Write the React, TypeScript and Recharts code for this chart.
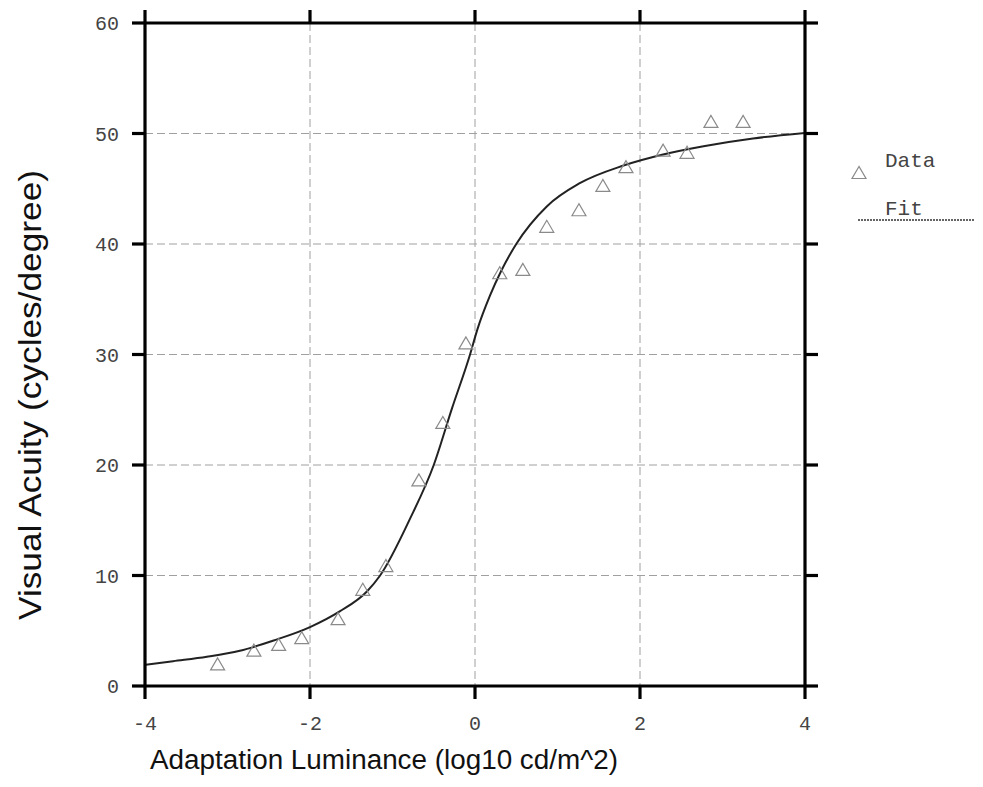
import React from 'react';
import { ComposedChart, Line, Scatter, XAxis, YAxis, CartesianGrid } from 'recharts';

const dataLuminance = [-3.12, -2.68, -2.38, -2.1, -1.66, -1.36, -1.08, -0.68, -0.39, -0.11, 0.3, 0.58, 0.87, 1.26, 1.55, 1.83, 2.28, 2.57, 2.86, 3.25];
const dataAcuity = [2.0, 3.25, 3.76, 4.37, 6.1, 8.75, 10.9, 18.65, 23.85, 31.05, 37.4, 37.7, 41.6, 43.1, 45.3, 47.0, 48.5, 48.3, 51.1, 51.1];

const fitLuminance = [-4, -3.66, -3.25, -2.85, -2.44, -2.0, -1.64, -1.31, -1.15, -0.79, -0.5, -0.28, -0.06, 0.03, 0.18, 0.32, 0.5, 0.87, 1.27, 1.8, 2.28, 2.77, 3.37, 4.0];
const fitAcuity = [1.92, 2.25, 2.65, 3.19, 4.12, 5.33, 6.75, 8.55, 10.0, 15.1, 20.0, 25.1, 30.0, 32.3, 35.3, 37.6, 40.0, 43.4, 45.5, 47.1, 48.1, 48.85, 49.55, 50.05];

const xTicks = [-4, -2, 0, 2, 4];
const yTicks = [0, 10, 20, 30, 40, 50, 60];

const xTitle = 'Adaptation Luminance (log10 cd/m^2)';
const yTitle = 'Visual Acuity (cycles/degree)';
const legendData = 'Data';
const legendFit = 'Fit';

const scatterData = dataLuminance.map((x, i) => ({ x, y: dataAcuity[i] }));
const fitData = fitLuminance.map((x, i) => ({ x, y: fitAcuity[i] }));

const W = 975;
const H = 779;
const mono = '"Liberation Mono", "Courier New", monospace';
const sans = '"Liberation Sans", Arial, sans-serif';

const TS = 13; // tick size
const BM = 17; // bottom tick margin
const LM = 13; // left tick margin
const FS = 20;

const Triangle = (props: any) => {
  const { cx, cy } = props;
  if (cx == null || cy == null) return null;
  return (
    <polygon
      points={`${cx},${cy - 6} ${cx - 7},${cy + 6} ${cx + 7},${cy + 6}`}
      fill="none"
      stroke="#8a8a8a"
      strokeWidth={1.2}
    />
  );
};

const BottomTick = (props: any) => {
  const { x, y, payload } = props;
  return (
    <g>
      <line x1={x} x2={x} y1={y - BM - TS} y2={y - BM} stroke="#000" strokeWidth={3.2} />
      <text x={x} y={y} dy="0.71em" textAnchor="middle" fill="#444" fontSize={FS} fontFamily={mono}>
        {payload.value}
      </text>
    </g>
  );
};

const LeftTick = (props: any) => {
  const { x, y, payload } = props;
  return (
    <g>
      <line x1={x + LM} x2={x + LM + TS} y1={y} y2={y} stroke="#000" strokeWidth={3.2} />
      <text x={x} y={y} dy="0.355em" textAnchor="end" fill="#444" fontSize={FS} fontFamily={mono}>
        {payload.value}
      </text>
    </g>
  );
};

const TopTick = (props: any) => {
  const { x, y } = props;
  return <line x1={x} x2={x} y1={y} y2={y + TS} stroke="#000" strokeWidth={3.2} />;
};

const RightTick = (props: any) => {
  const { x, y } = props;
  return <line x1={x - TS} x2={x} y1={y} y2={y} stroke="#000" strokeWidth={3.2} />;
};

const axisLine = { stroke: '#000', strokeWidth: 3.2 };

export default function App() {
  return (
    <div style={{ position: 'relative', width: W, height: H }}>
      <ComposedChart
        width={W}
        height={H}
        margin={{ top: 2, right: 165, left: 77, bottom: 51 }}
      >
        <CartesianGrid xAxisId="bottom" yAxisId="left" stroke="#a0a0a0" strokeDasharray="8 4" strokeWidth={1} />
        <XAxis
          xAxisId="bottom"
          dataKey="x"
          type="number"
          domain={[-4, 4]}
          ticks={xTicks}
          orientation="bottom"
          height={50}
          tickSize={TS}
          tickMargin={BM}
          axisLine={axisLine}
          tickLine={false}
          tick={BottomTick}
          interval={0}
          allowDataOverflow
        />
        <XAxis
          xAxisId="top"
          dataKey="x"
          type="number"
          domain={[-4, 4]}
          ticks={xTicks}
          orientation="top"
          height={13}
          tickSize={TS}
          tickMargin={0}
          axisLine={axisLine}
          tickLine={false}
          tick={TopTick}
          interval={0}
          allowDataOverflow
        />
        <YAxis
          yAxisId="left"
          type="number"
          domain={[0, 60]}
          ticks={yTicks}
          orientation="left"
          width={60}
          tickSize={TS}
          tickMargin={LM}
          axisLine={axisLine}
          tickLine={false}
          tick={LeftTick}
          interval={0}
          allowDataOverflow
        />
        <YAxis
          yAxisId="right"
          type="number"
          domain={[0, 60]}
          ticks={yTicks}
          orientation="right"
          width={13}
          tickSize={TS}
          tickMargin={0}
          axisLine={axisLine}
          tickLine={false}
          tick={RightTick}
          interval={0}
          allowDataOverflow
        />
        <Line
          xAxisId="bottom"
          yAxisId="left"
          data={fitData}
          dataKey="y"
          type="monotone"
          stroke="#222"
          strokeWidth={2}
          dot={false}
          activeDot={false}
          isAnimationActive={false}
        />
        <Scatter
          xAxisId="bottom"
          yAxisId="left"
          data={scatterData}
          dataKey="y"
          shape={Triangle}
          isAnimationActive={false}
        />
      </ComposedChart>
      <svg
        width={W}
        height={H}
        style={{ position: 'absolute', left: 0, top: 0, pointerEvents: 'none' }}
      >
        <text
          x={142}
          y={761}
          fontFamily={sans}
          fontSize={27}
          fill="#111"
          textLength={468}
          lengthAdjust="spacingAndGlyphs"
        >
          {xTitle}
        </text>
        <text
          transform="translate(33,612) rotate(-90)"
          x={0}
          y={0}
          fontFamily={sans}
          fontSize={32}
          fill="#111"
          textLength={450}
          lengthAdjust="spacingAndGlyphs"
        >
          {yTitle}
        </text>
        <polygon points="851,158.5 844,170.5 858,170.5" fill="none" stroke="#8a8a8a" strokeWidth={1.2} />
        <text x={877} y={159} fontFamily={mono} fontSize={21} fill="#444">
          {legendData}
        </text>
        <text x={877} y={207} fontFamily={mono} fontSize={21} fill="#444">
          {legendFit}
        </text>
        <line x1={850} y1={212} x2={975} y2={212} stroke="#333" strokeWidth={1.5} strokeDasharray="2 1" />
      </svg>
    </div>
  );
}
